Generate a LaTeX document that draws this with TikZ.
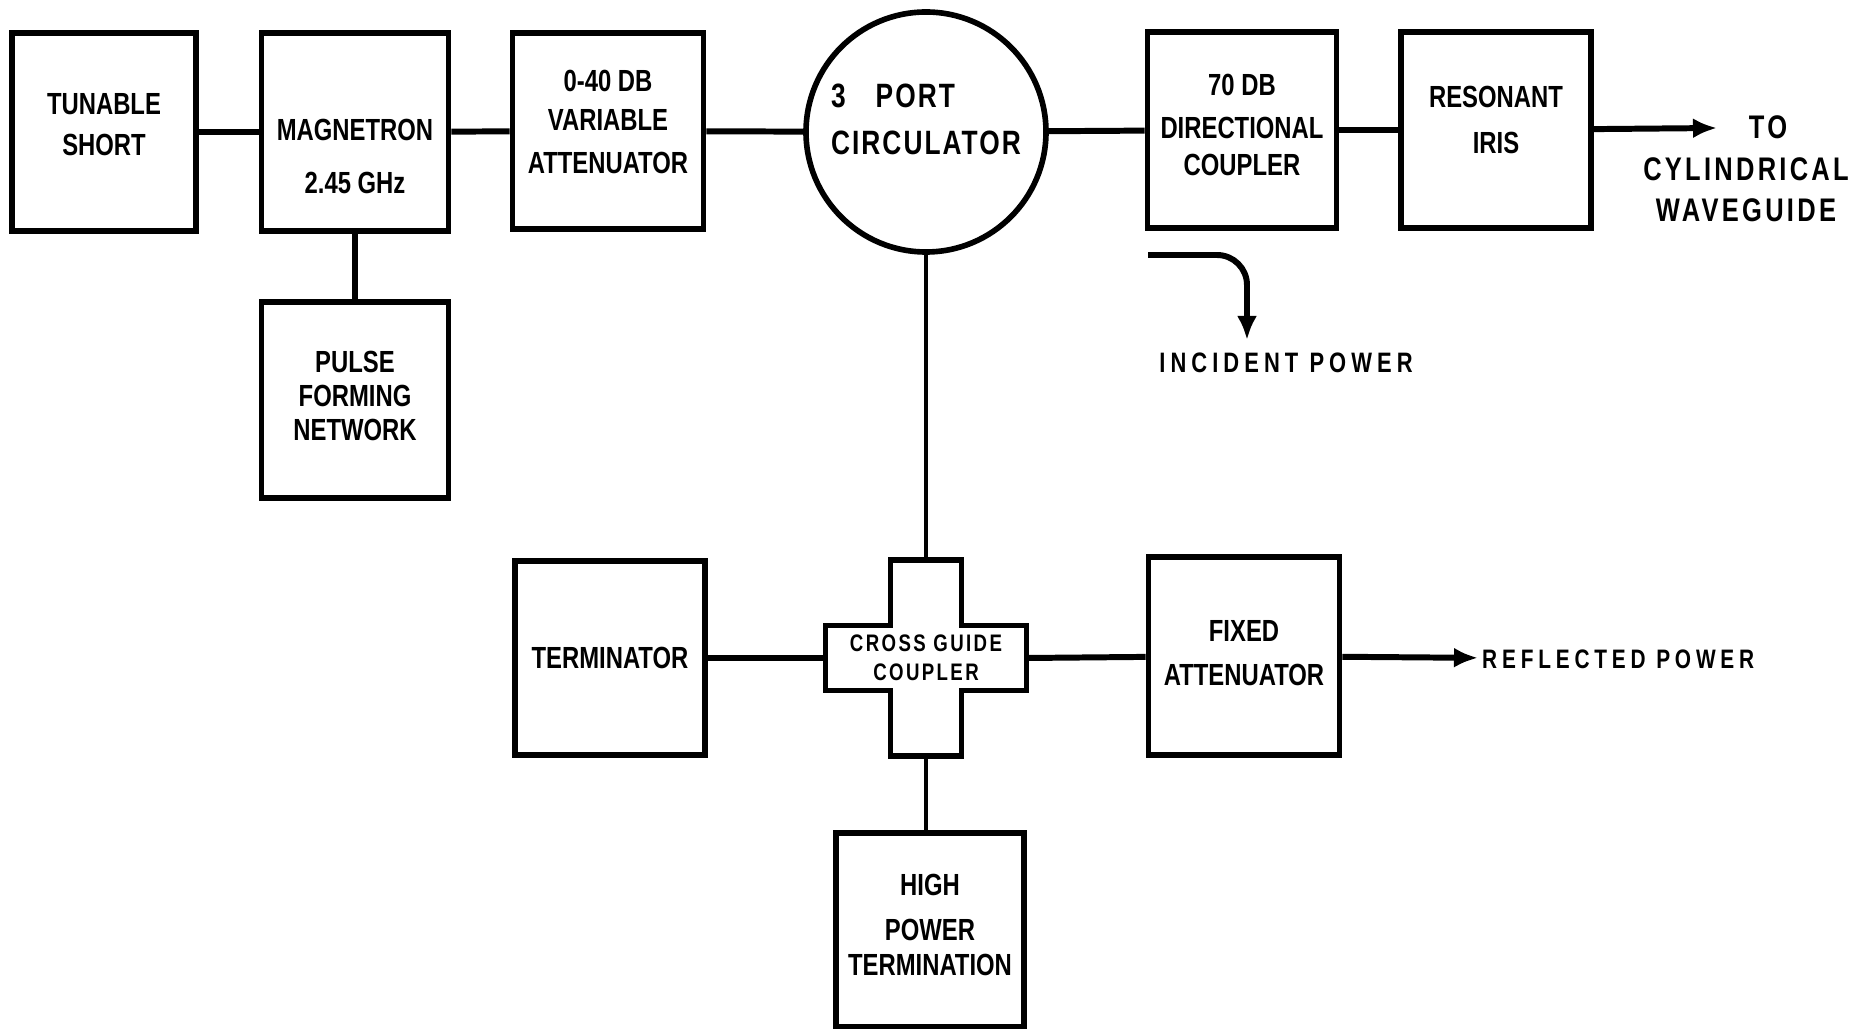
\documentclass[tikz,border=0pt]{standalone}
\usepackage{fontspec}
\setmainfont{Liberation Sans}[FakeStretch=0.78]
\usepackage{tikz}
\usetikzlibrary{arrows.meta,positioning,shapes.geometric}

\begin{document}
\begin{tikzpicture}[
  x=1mm, y=-1mm,
  font=\fontsize{8.7}{11.5}\selectfont\bfseries,
  block/.style={draw, line width=1.6pt, align=center, minimum width=18.9mm, minimum height=19.6mm, inner sep=2pt},
  link/.style={line width=1.7pt},
  thinlink/.style={line width=1.1pt},
  arrow/.style={-{Latex[length=2.4mm,width=2mm]}, line width=1.7pt},
  note/.style={align=center, inner sep=1pt, font=\fontsize{7.8}{10}\selectfont\addfontfeatures{LetterSpace=18}}
]
\fill[white] (0,0) rectangle (185.9,102.9);
\useasboundingbox (0,0) rectangle (185.9,102.9);

\node[block, minimum width=18.4mm, minimum height=19.8mm] (short) at (10.4,13.2) {TUNABLE\\SHORT\\[-2.5mm]};
\node[block, minimum width=18.7mm, minimum height=19.8mm] (mag) at (35.5,13.2) {\\[3mm]MAGNETRON\\[1.3mm]2.45 GHz};
\node[block, minimum width=19.1mm] (att) at (60.8,13.1) {0-40 DB\\[-0.1mm]VARIABLE\\[0.2mm]ATTENUATOR\\[-2.2mm]};
\node[draw, circle, line width=1.6pt, minimum size=24mm, inner sep=0pt, align=left, font=\fontsize{9.6}{13.5}\selectfont\bfseries\addfontfeatures{LetterSpace=6}] (circ) at (92.6,13.2) {3\hspace{3mm}PORT\\CIRCULATOR\\[-2.2mm]};
\node[block] (dcoup) at (124.2,13.0) {70 DB\\[0.3mm]DIRECTIONAL\\[-0.3mm]COUPLER\\[-3mm]};
\node[block, minimum width=19.0mm] (iris) at (149.6,13.0) {RESONANT\\[0.5mm]IRIS\\[-2mm]};
\coordinate (toend) at (171.7,12.8);
\node[note, font=\fontsize{9.3}{11.8}\selectfont\bfseries\addfontfeatures{LetterSpace=10}] (towg) at (174.6,16.9) {\hspace*{4.4mm}TO\\CYLINDRICAL\\WAVEGUIDE};

\node[block, minimum width=18.7mm] (pfn) at (35.5,40.0) {PULSE\\[-0.6mm]FORMING\\[-0.6mm]NETWORK\\[-3.2mm]};

\coordinate (incA) at (114.8,25.5);
\coordinate (incB) at (124.7,34.0);
\node[note, font=\fontsize{8}{10}\selectfont\bfseries\addfontfeatures{LetterSpace=18}] (inc) at (128.6,36.3) {INCIDENT POWER};

\node[block, minimum width=19.0mm, minimum height=19.4mm] (term) at (61.0,65.8) {TERMINATOR};
\node[minimum width=20.1mm, minimum height=6.5mm, inner sep=0pt, align=center, font=\fontsize{6.8}{8.4}\selectfont\bfseries\addfontfeatures{LetterSpace=10}] (cross) at (92.6,65.8) {CROSS GUIDE\\COUPLER};
\coordinate (crossN) at ([yshift=9.8mm]cross.center);
\coordinate (crossS) at ([yshift=-9.8mm]cross.center);
\draw[line width=1.6pt, shift={(cross.center)}] (-3.55,-9.8) -- (3.55,-9.8) -- (3.55,-3.25) -- (10.05,-3.25) -- (10.05,3.25) -- (3.55,3.25) -- (3.55,9.8) -- (-3.55,9.8) -- (-3.55,3.25) -- (-10.05,3.25) -- (-10.05,-3.25) -- (-3.55,-3.25) -- cycle;
\node[block, minimum width=19.1mm, minimum height=19.8mm] (fixatt) at (124.4,65.6) {FIXED\\[0.3mm]ATTENUATOR\\[-3.4mm]};
\node[note, anchor=west, font=\fontsize{7.6}{10}\selectfont\bfseries\addfontfeatures{LetterSpace=18}] (refl) at (147.8,65.9) {REFLECTED POWER};
\node[block, minimum width=18.8mm, minimum height=19.4mm] (hpt) at (93.0,93.0) {HIGH\\[0.5mm]POWER\\[-0.6mm]TERMINATION\\[-3mm]};

\draw[link] (short) -- (mag);
\draw[link] (mag) -- (att);
\draw[link] (att) -- (circ);
\draw[link] (circ) -- (dcoup);
\draw[link] (dcoup) -- (iris);
\draw[arrow] (iris) -- (toend);
\draw[link] (mag) -- (pfn);
\draw[arrow, rounded corners=3mm] (incA) -| (incB);
\draw[thinlink] (circ) -- (crossN);
\draw[link] (term) -- (cross.west);
\draw[link] (cross.east) -- (fixatt);
\draw[arrow] (fixatt) -- (refl);
\draw[thinlink] (crossS) -- (crossS |- hpt.north);
\end{tikzpicture}
\end{document}
